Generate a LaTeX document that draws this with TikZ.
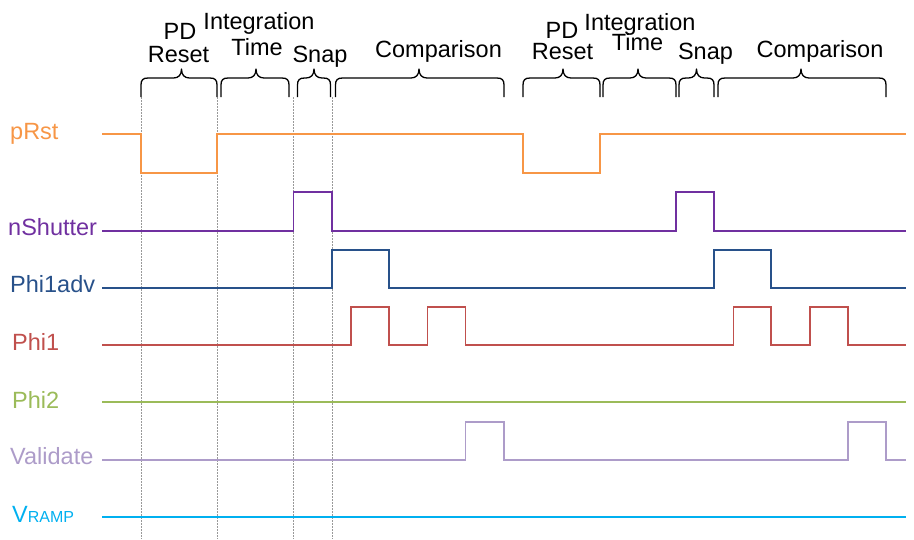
\documentclass[tikz,border=0pt]{standalone}
\usepackage{fontspec}
\setmainfont{Liberation Sans}
\definecolor{cRst}{HTML}{F79646}
\definecolor{cShut}{HTML}{7030A0}
\definecolor{cAdv}{HTML}{28518A}
\definecolor{cPhiA}{HTML}{C0504D}
\definecolor{cPhiB}{HTML}{9BBB59}
\definecolor{cVal}{HTML}{AD9CC9}
\definecolor{cRamp}{HTML}{00B0F0}
\begin{document}
\begin{tikzpicture}[x=1pt,y=-1pt,
  sig/.style={line width=1.4pt, line join=miter},
  lbl/.style={anchor=base west, inner sep=0pt, font=\fontsize{23.5}{28}\selectfont},
  ttl/.style={anchor=base, inner sep=0pt, font=\fontsize{23.5}{28}\selectfont},
  guide/.style={draw=black!40, dash pattern=on 1.5pt off 1.5pt, line width=1pt},
  brc/.style={draw=black, line width=1.3pt, line join=round}]
\useasboundingbox (0,0) rectangle (914,539);

% phase boundaries
\foreach \gx in {141,217,293.5,332}
  \draw[guide] (\gx,97) -- (\gx,539);

% phase braces
\foreach \a/\b/\m in {141/217/181.5, 221/289/256, 297.5/330.5/314, 335.5/504/419,
                      523/600/563, 603/676/638, 679/714/696.5, 718/886/801}
  \draw[brc] (\a,97) -- (\a,85) .. controls (\a,80) and ({\a+2},78) .. ({\a+7},78)
    -- ({\m-8},78) .. controls ({\m-3},78) and (\m,75) .. (\m,69)
    .. controls (\m,75) and ({\m+3},78) .. ({\m+8},78)
    -- ({\b-7},78) .. controls ({\b-2},78) and (\b,80) .. (\b,85) -- (\b,97);

% phase titles, first frame
\node[ttl] (pd1)   at (180,39.3)  {PD};
\node[ttl] (rs1)   at (178.5,62.3){Reset};
\node[ttl] (int1)  at (259,29.3)  {Integration};
\node[ttl] (tm1)   at (257,55)    {Time};
\node[ttl] (sn1)   at (320,62.3)  {Snap};
\node[ttl] (cmp1)  at (438.5,57.7){Comparison};
% phase titles, second frame
\node[ttl] (pd2)   at (562,38.3)  {PD};
\node[ttl] (rs2)   at (562.5,59.3){Reset};
\node[ttl] (int2)  at (640,30)    {Integration};
\node[ttl] (tm2)   at (637.5,50)  {Time};
\node[ttl] (sn2)   at (705.5,59.3){Snap};
\node[ttl] (cmp2)  at (820,57.7)  {Comparison};

% signal names
\node[lbl, text=cRst]  (nRst)  at (10,139)   {pRst};
\node[lbl, text=cShut] (nShut) at (8,235.7)  {nShutter};
\node[lbl, text=cAdv]  (nAdv)  at (10,292.7) {Phi1adv};
\node[lbl, text=cPhiA] (nPhiA) at (12,350)   {Phi1};
\node[lbl, text=cPhiB] (nPhiB) at (12,408)   {Phi2};
\node[lbl, text=cVal]  (nVal)  at (10,464.5) {Validate};
\node[lbl, text=cRamp] (nRamp) at (12,522.7) {V{\fontsize{16}{18}\selectfont RAMP}};

% waveforms
\draw[sig, cRst]  (102,134) -| (141,173) -| (217,134) -| (523,173) -| (600,134) -- (906,134);
\draw[sig, cShut] (102,231) -| (293.5,192) -| (332,231) -| (676,192) -| (714,231) -- (906,231);
\draw[sig, cAdv]  (102,288) -| (332,250) -| (389,288) -| (714,250) -| (771,288) -- (906,288);
\draw[sig, cPhiA] (102,345) -| (351,307) -| (389,345) -| (427.5,307) -| (465.5,345)
                  -| (733.5,307) -| (771,345) -| (810,307) -| (848,345) -- (906,345);
\draw[sig, cPhiB] (102,402) -- (906,402);
\draw[sig, cVal]  (102,460) -| (465.5,422) -| (504,460) -| (848,422) -| (886,460) -- (906,460);
\draw[sig, cRamp] (102,517) -- (906,517);
\end{tikzpicture}
\end{document}
